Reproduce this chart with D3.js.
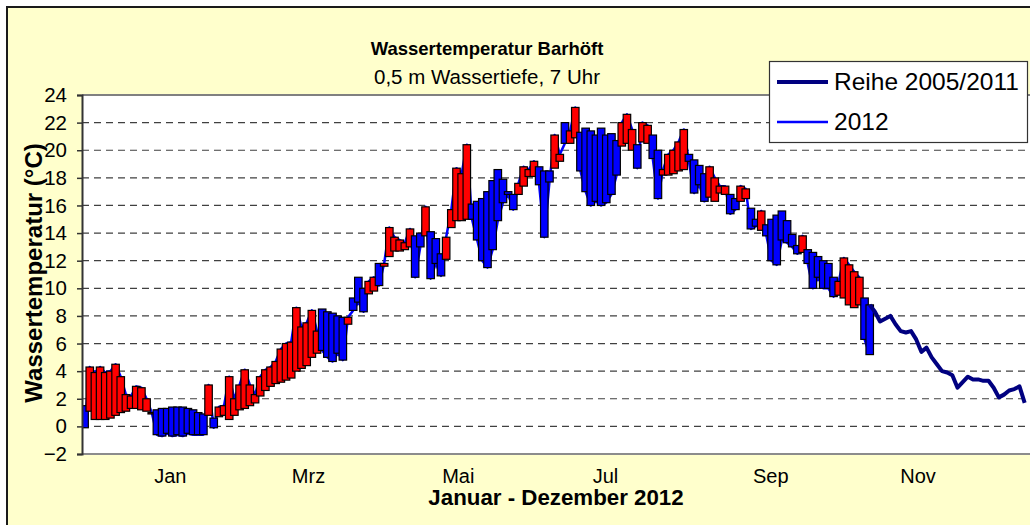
<!DOCTYPE html>

<head>
  <meta charset="utf-8">
  <script src="https://d3js.org/d3.v7.min.js"></script>
  <style>
    body { margin: 0; background: #ffffff; }
    svg text { font-family: 'Liberation Sans', Arial, sans-serif; fill: #000; }
  </style>
</head>

<body>
  <script>
    // size of the whole picture
    var outerWidth = 1030,
      outerHeight = 525;

    // edges of the plot area (the right side runs off the picture, like the original)
    var plot = { left: 82, top: 95, right: 1035, bottom: 454 };

    // one value every second day, counted from 1 january 2012
    var dayStep = 2;

    // long term mean 2005/2011, day 0 .. 364
    var tempMean = [
      1.5, 1.1, 0.5, 0.5, 0.5, 0.6, 0.8, 1.0, 1.1, 1.3,
      1.3, 1.2, 1.1, 0.9, 1.2, 1.3, 1.3, 1.4, 1.4, 1.4,
      1.3, 1.2, 1.0, 0.9, 0.8, 0.6, 0.7, 0.8, 0.5, 0.8,
      1.2, 1.3, 1.5, 1.7, 2.2, 2.6, 2.9, 3.1, 3.2, 3.35,
      3.5, 4.0, 4.2, 4.4, 5.0, 5.3, 8.5, 8.3, 8.2, 8.0,
      7.9, 7.4, 9.3, 10.8, 10.0, 9.6, 9.8, 11.8, 11.6, 12.3,
      12.7, 12.7, 12.8, 13.0, 13.8, 14.0, 13.8, 14.1, 13.6, 12.5,
      12.1, 14.4, 14.9, 14.9, 15.0, 16.1, 16.3, 16.5, 17.0, 17.8,
      18.6, 17.9, 17.0, 16.8, 16.8, 17.4, 18.1, 18.1, 18.8, 18.5,
      18.5, 18.7, 19.2, 22.0, 20.5, 20.9, 21.3, 21.6, 21.4, 21.1,
      21.6, 21.1, 21.2, 20.7, 20.3, 20.5, 20.0, 20.4, 20.6, 20.5,
      21.1, 20.0, 18.2, 18.2, 18.3, 18.5, 18.6, 19.7, 19.3, 18.9,
      18.3, 16.6, 16.3, 16.9, 16.8, 16.8, 16.5, 16.3, 16.5, 15.8,
      15.0, 14.2, 14.6, 15.0, 15.3, 15.6, 14.9, 13.9, 13.1, 12.6,
      12.8, 12.6, 12.3, 12.0, 11.8, 10.8, 9.5, 9.3, 8.8, 8.6,
      8.8, 9.3, 8.8, 8.3, 7.6, 7.8, 8.0, 7.4, 6.9, 6.8,
      6.9, 6.3, 5.4, 5.7, 5.0, 4.5, 4.0, 3.9, 3.7, 2.8,
      3.2, 3.6, 3.4, 3.4, 3.3, 3.3, 2.8, 2.1, 2.3, 2.6,
      2.7, 2.9, 1.7
    ];

    // 2012 measurements, day 0 .. 304
    var temp2012 = [
      -0.1, 4.3, 3.9, 4.3, 3.9, 4.0, 4.5, 3.6, 2.3, 2.2,
      2.9, 2.8, 2.0, 1.0, -0.6, -0.7, -0.5, -0.7, -0.6, -0.7,
      -0.5, -0.6, -0.6, -0.6, 3.0, -0.1, 1.4, 1.5, 3.6, 2.0,
      3.0, 4.1, 3.0, 2.3, 3.6, 4.1, 4.3, 4.7, 5.6, 6.0,
      6.1, 8.6, 7.2, 7.5, 8.4, 6.9, 5.5, 5.0, 4.7, 5.3,
      4.8, 7.9, 8.4, 9.0, 8.3, 10.5, 10.8, 10.2, 11.8, 14.4,
      13.7, 13.5, 13.3, 14.3, 10.8, 13.0, 15.9, 10.7, 11.8, 10.9,
      13.7, 15.7, 18.7, 18.3, 20.4, 15.0, 13.5, 12.0, 11.5, 12.8,
      14.9, 16.2, 16.8, 15.7, 17.6, 18.8, 18.6, 19.2, 17.5, 13.7,
      17.7, 21.1, 19.7, 20.5, 21.4, 23.1, 18.5, 17.0, 16.0, 16.3,
      16.0, 16.2, 16.8, 18.2, 22.0, 22.6, 21.5, 18.7, 22.0, 21.8,
      19.4, 16.5, 18.6, 19.7, 20.0, 20.6, 21.5, 19.2, 16.9, 17.5,
      16.3, 18.8, 18.0, 17.4, 17.4, 15.4, 15.7, 17.4, 17.2, 14.3,
      14.5, 15.6, 13.8, 12.0, 11.7, 13.5, 13.3, 13.0, 12.5, 13.8,
      11.8, 10.0, 10.8, 10.0, 10.0, 9.4, 10.5, 12.2, 11.7, 11.2,
      10.8, 6.3, 5.2
    ];

    // month labels and the day where each one sits on the axis
    var monthLabels = ['Jan', 'Mrz', 'Mai', 'Jul', 'Sep', 'Nov'];
    var monthTicks = [33, 86.5, 144.5, 201.5, 265.5, 322.5];

    // y ticks
    var yTicks = [-2, 0, 2, 4, 6, 8, 10, 12, 14, 16, 18, 20, 22, 24];

    var seriesNames = ['Reihe 2005/2011', '2012'];

    // scales
    var xScale = d3.scaleLinear()
      .domain([-1, 368])
      .range([plot.left, plot.right]);

    var yScale = d3.scaleLinear()
      .domain([-2, 24])
      .range([plot.bottom, plot.top]);

    var svg = d3.select('body')
      .append('svg')
      .attr('width', outerWidth)
      .attr('height', outerHeight);

    // yellow chart area with its frame
    svg.append('rect')
      .attr('x', 7)
      .attr('y', 7)
      .attr('width', 1100)
      .attr('height', 600)
      .attr('fill', '#FFFFCC')
      .attr('stroke', '#1a1a1a')
      .attr('stroke-width', 2);

    // white plot area
    svg.append('rect')
      .attr('x', plot.left)
      .attr('y', plot.top)
      .attr('width', plot.right - plot.left)
      .attr('height', plot.bottom - plot.top)
      .attr('fill', '#ffffff');

    svg.append('clipPath')
      .attr('id', 'plotClip')
      .append('rect')
      .attr('x', plot.left)
      .attr('y', plot.top)
      .attr('width', plot.right - plot.left)
      .attr('height', plot.bottom - plot.top);

    // dashed grid lines
    svg.append('g')
      .selectAll('line')
      .data(yTicks.filter(function(t) { return t > -2 && t < 24; }))
      .join('line')
      .attr('x1', plot.left)
      .attr('x2', plot.right)
      .attr('y1', function(d) { return yScale(d); })
      .attr('y2', function(d) { return yScale(d); })
      .attr('stroke', '#404040')
      .attr('stroke-width', 1.2)
      .attr('stroke-dasharray', '7,5');

    // top and bottom edge of the plot area
    svg.append('line')
      .attr('x1', plot.left).attr('x2', plot.right)
      .attr('y1', plot.top).attr('y2', plot.top)
      .attr('stroke', '#808080').attr('stroke-width', 2);
    svg.append('line')
      .attr('x1', plot.left).attr('x2', plot.right)
      .attr('y1', plot.bottom).attr('y2', plot.bottom)
      .attr('stroke', '#8c8c8c').attr('stroke-width', 2);

    // build rows for the lines and the up/down bars
    var meanRows = tempMean.map(function(v, i) { return { day: i * dayStep, val: v }; });
    var rows2012 = temp2012.map(function(v, i) { return { day: i * dayStep, val: v, ref: tempMean[i] }; });
    var last2012Day = rows2012[rows2012.length - 1].day;

    var line = d3.line()
      .x(function(d) { return xScale(d.day); })
      .y(function(d) { return yScale(d.val); });

    var dataLayer = svg.append('g').attr('clip-path', 'url(#plotClip)');

    // 2012 line, thin blue, only its edges peek out from under the bars
    dataLayer.append('path')
      .datum(rows2012)
      .attr('d', line)
      .attr('fill', 'none')
      .attr('stroke', '#0000FF')
      .attr('stroke-width', 2.5)
      .attr('stroke-linejoin', 'round');

    // up/down bars between the two series: red warmer, blue colder
    var barWidth = 7.5;
    dataLayer.append('g')
      .selectAll('rect')
      .data(rows2012)
      .join('rect')
      .attr('x', function(d) { return xScale(d.day) - barWidth / 2; })
      .attr('y', function(d) { return yScale(Math.max(d.val, d.ref)); })
      .attr('width', barWidth)
      .attr('height', function(d) { return Math.abs(yScale(d.val) - yScale(d.ref)); })
      .attr('fill', function(d) { return d.val >= d.ref ? '#FF0000' : '#0000FF'; })
      .attr('stroke', '#000')
      .attr('stroke-width', 1.2);

    // mean line, thick navy, shown where the bars no longer cover it
    dataLayer.append('path')
      .datum(meanRows.filter(function(d) { return d.day >= last2012Day; }))
      .attr('d', line)
      .attr('fill', 'none')
      .attr('stroke', '#000080')
      .attr('stroke-width', 4)
      .attr('stroke-linejoin', 'round');

    // y axis
    var yAxis = svg.append('g')
      .attr('transform', 'translate(' + plot.left + ',0)')
      .call(d3.axisLeft(yScale).tickValues(yTicks).tickSize(5).tickPadding(10));
    yAxis.select('.domain').attr('stroke', '#333').attr('stroke-width', 2);
    yAxis.selectAll('.tick line').attr('stroke', '#333').attr('stroke-width', 1.5);
    yAxis.selectAll('text')
      .attr('font-size', 20.5)
      .attr('font-family', "'Liberation Sans', Arial, sans-serif")
      .attr('fill', '#000');

    // x axis, labels only
    var xAxis = svg.append('g')
      .attr('transform', 'translate(0,' + plot.bottom + ')')
      .call(d3.axisBottom(xScale)
        .tickValues(monthTicks)
        .tickFormat(function(d, i) { return monthLabels[i]; })
        .tickSize(0)
        .tickPadding(15));
    xAxis.select('.domain').remove();
    xAxis.selectAll('text')
      .attr('font-size', 20)
      .attr('font-family', "'Liberation Sans', Arial, sans-serif")
      .attr('fill', '#000');

    // titles
    svg.append('text')
      .attr('x', 487)
      .attr('y', 55)
      .attr('text-anchor', 'middle')
      .attr('font-size', 18.5)
      .attr('font-weight', 'bold')
      .text('Wassertemperatur Barhöft');

    svg.append('text')
      .attr('x', 487)
      .attr('y', 84)
      .attr('text-anchor', 'middle')
      .attr('font-size', 20.5)
      .text('0,5 m Wassertiefe, 7 Uhr');

    svg.append('text')
      .attr('x', 556)
      .attr('y', 505)
      .attr('text-anchor', 'middle')
      .attr('font-size', 22.3)
      .attr('font-weight', 'bold')
      .text('Januar - Dezember 2012');

    svg.append('text')
      .attr('transform', 'translate(42,273) rotate(-90)')
      .attr('text-anchor', 'middle')
      .attr('font-size', 24)
      .attr('font-weight', 'bold')
      .text('Wassertemperatur  (°C)');

    // legend
    var legend = svg.append('g');
    legend.append('rect')
      .attr('x', 769.5)
      .attr('y', 61.5)
      .attr('width', 258)
      .attr('height', 81)
      .attr('fill', '#fff')
      .attr('stroke', '#333')
      .attr('stroke-width', 1.2);

    var legendColors = ['#000080', '#0000FF'],
      legendWidths = [4, 2.5];

    seriesNames.forEach(function(name, i) {
      var ly = 82 + i * 40;
      legend.append('line')
        .attr('x1', 777).attr('x2', 828)
        .attr('y1', ly).attr('y2', ly)
        .attr('stroke', legendColors[i])
        .attr('stroke-width', legendWidths[i]);
      legend.append('text')
        .attr('x', 834)
        .attr('y', ly + 8)
        .attr('font-size', 24.5)
        .text(name);
    });
  </script>
</body>
